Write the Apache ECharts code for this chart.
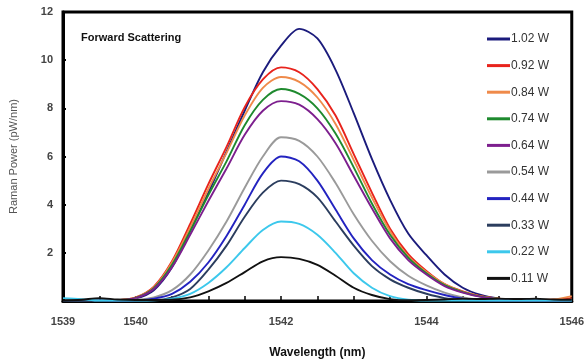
<!DOCTYPE html>
<html>
<head>
<meta charset="utf-8">
<script src="https://cdn.jsdelivr.net/npm/echarts@6/dist/echarts.min.js"></script>
<style>
  html, body { margin: 0; padding: 0; background: #fff; }
  #chart { width: 587px; height: 364px; }
</style>
</head>
<body>
<div id="chart"></div>
<script>
// wavelength samples (nm)
var wavelengths = [1539, 1539.25, 1539.5, 1539.75, 1540, 1540.25, 1540.5, 1540.75, 1541, 1541.25,
  1541.5, 1541.75, 1542, 1542.25, 1542.5, 1542.75, 1543, 1543.25, 1543.5, 1543.75,
  1544, 1544.25, 1544.5, 1544.75, 1545, 1545.25, 1545.5, 1545.75, 1546];

// Raman power (pW/nm) per pump power
var p102 = [0, 0, 0.02, 0.02, 0.1, 0.45, 1.4, 2.9, 4.5, 6.2, 7.9, 9.5, 10.6, 11.3, 10.9, 9.6, 7.8, 5.9, 4.2, 2.8, 1.9, 1.1, 0.55, 0.25, 0.1, 0.04, 0.02, 0.02, 0.05];
var p092 = [0, 0, 0, 0.03, 0.15, 0.6, 1.65, 3.2, 4.85, 6.4, 8.05, 9.2, 9.7, 9.5, 8.8, 7.7, 6.1, 4.5, 3.0, 1.95, 1.25, 0.7, 0.4, 0.2, 0.1, 0.04, 0.03, 0.05, 0.12];
var p084 = [0, 0, 0, 0.03, 0.14, 0.56, 1.6, 3.05, 4.65, 6.15, 7.7, 8.85, 9.3, 9.1, 8.45, 7.35, 5.85, 4.3, 2.9, 1.85, 1.2, 0.7, 0.38, 0.19, 0.09, 0.04, 0.03, 0.06, 0.2];
var p074 = [0, 0, 0, 0.03, 0.13, 0.53, 1.5, 2.9, 4.4, 5.8, 7.3, 8.35, 8.8, 8.6, 8.0, 6.95, 5.55, 4.05, 2.75, 1.8, 1.15, 0.66, 0.37, 0.18, 0.09, 0.04, 0.03, 0.03, 0.05];
var p064 = [0, 0, 0, 0.03, 0.12, 0.5, 1.4, 2.75, 4.15, 5.5, 6.9, 7.9, 8.3, 8.15, 7.55, 6.55, 5.2, 3.85, 2.6, 1.7, 1.1, 0.62, 0.35, 0.17, 0.08, 0.03, 0.02, 0.02, 0.04];
var p054 = [0, 0, 0, 0.02, 0.05, 0.15, 0.45, 1.1, 2.1, 3.3, 4.7, 6.0, 6.8, 6.65, 6.0, 4.9, 3.6, 2.5, 1.65, 1.05, 0.65, 0.35, 0.15, 0.05, 0.02, 0.02, 0.02, 0.02, 0.03];
var p044 = [0, 0, 0, 0.02, 0.03, 0.1, 0.3, 0.8, 1.6, 2.7, 4.0, 5.3, 6.0, 5.8, 5.0, 3.8, 2.6, 1.7, 1.1, 0.7, 0.45, 0.25, 0.1, 0.03, 0.02, 0.02, 0.02, 0.02, 0.03];
var p033 = [0, 0, 0, 0.02, 0.02, 0.03, 0.15, 0.5, 1.3, 2.3, 3.5, 4.5, 5.0, 4.85, 4.3, 3.3, 2.3, 1.45, 0.9, 0.55, 0.3, 0.12, 0.04, 0.02, 0.02, 0.02, 0.02, 0.02, 0.02];
var p022 = [0.12, 0.08, 0.02, 0.02, 0.02, 0.03, 0.1, 0.3, 0.75, 1.4, 2.2, 2.95, 3.3, 3.2, 2.75, 2.0, 1.15, 0.55, 0.2, 0.05, 0.02, 0.02, 0.02, 0.02, 0.02, 0.02, 0.02, 0.02, 0.02];
var p011 = [0.02, 0.05, 0.12, 0.06, 0.04, 0.04, 0.05, 0.15, 0.4, 0.75, 1.2, 1.65, 1.82, 1.75, 1.5, 1.05, 0.55, 0.25, 0.08, 0.03, 0.04, 0.06, 0.1, 0.08, 0.1, 0.08, 0.1, 0.06, 0.05];

var seriesNames = ['1.02 W', '0.92 W', '0.84 W', '0.74 W', '0.64 W', '0.54 W', '0.44 W', '0.33 W', '0.22 W', '0.11 W'];
var seriesValues = [p102, p092, p084, p074, p064, p054, p044, p033, p022, p011];
var colors = ['#1b1b7c', '#e8231c', '#ef8a4a', '#1e8a2e', '#7d1f8e', '#9a9a9a', '#2323c0', '#2b3d5e', '#3cc8ec', '#111111'];

var xTickLabels = [1539, 1540, 1542, 1544, 1546];
var yTickLabels = [2, 4, 6, 8, 10, 12];

var font = '"Liberation Sans", Arial, sans-serif';
var narrow = '"Liberation Sans Narrow", "Arial Narrow", "Liberation Sans", sans-serif';

var series = [];
for (var i = 0; i < seriesNames.length; i++) {
  var pts = [];
  for (var j = 0; j < wavelengths.length; j++) {
    pts.push([wavelengths[j], seriesValues[i][j]]);
  }
  series.push({
    name: seriesNames[i],
    type: 'line',
    data: pts,
    smooth: 0.3,
    showSymbol: false,
    symbol: 'none',
    lineStyle: { width: 1.9, color: colors[i] },
    itemStyle: { color: colors[i] },
    z: 2 + i
  });
}

var chart = echarts.init(document.getElementById('chart'), null, { renderer: 'canvas' });
chart.setOption({
  animation: false,
  color: colors,
  grid: {
    left: 62, right: 14, top: 12, bottom: 62,
    show: true, borderColor: '#000', borderWidth: 3, backgroundColor: '#fff'
  },
  graphic: [{
    type: 'text', left: 81, top: 32, z: 10,
    style: { text: 'Forward Scattering', font: 'bold 11px ' + font, fill: '#111' }
  }],
  legend: {
    orient: 'vertical',
    left: 482, top: 28,
    icon: 'rect',
    itemWidth: 23, itemHeight: 3,
    itemGap: 14.6,
    data: seriesNames,
    textStyle: { fontFamily: narrow, fontSize: 12, color: '#333', padding: [0, 0, 0, -4] }
  },
  xAxis: {
    type: 'value',
    min: 1539, max: 1546, interval: 0.5,
    name: 'Wavelength (nm)',
    nameLocation: 'middle', nameGap: 46,
    nameTextStyle: { fontFamily: font, fontWeight: 'bold', fontSize: 12, color: '#111' },
    axisLine: { lineStyle: { color: '#000', width: 3 } },
    axisTick: { inside: true, length: 5, lineStyle: { color: '#000', width: 1.5 } },
    splitLine: { show: false },
    axisLabel: {
      margin: 15,
      fontFamily: font, fontWeight: 'bold', fontSize: 11, color: '#444',
      showMinLabel: true, showMaxLabel: true,
      formatter: function (v) { return xTickLabels.indexOf(v) >= 0 ? String(v) : ''; }
    }
  },
  yAxis: {
    type: 'value',
    min: 0, max: 12, interval: 2,
    name: 'Raman Power (pW/nm)',
    nameLocation: 'middle', nameGap: 44,
    nameTextStyle: { fontFamily: font, fontSize: 11, color: '#555' },
    axisLine: { show: true, lineStyle: { color: '#000', width: 3 } },
    axisTick: { show: true, inside: true, length: 3, lineStyle: { color: '#000', width: 2 } },
    splitLine: { show: false },
    axisLabel: {
      margin: 10,
      fontFamily: font, fontWeight: 'bold', fontSize: 11, color: '#444',
      formatter: function (v) { return yTickLabels.indexOf(v) >= 0 ? String(v) : ''; }
    }
  },
  series: series
});
</script>
</body>
</html>
